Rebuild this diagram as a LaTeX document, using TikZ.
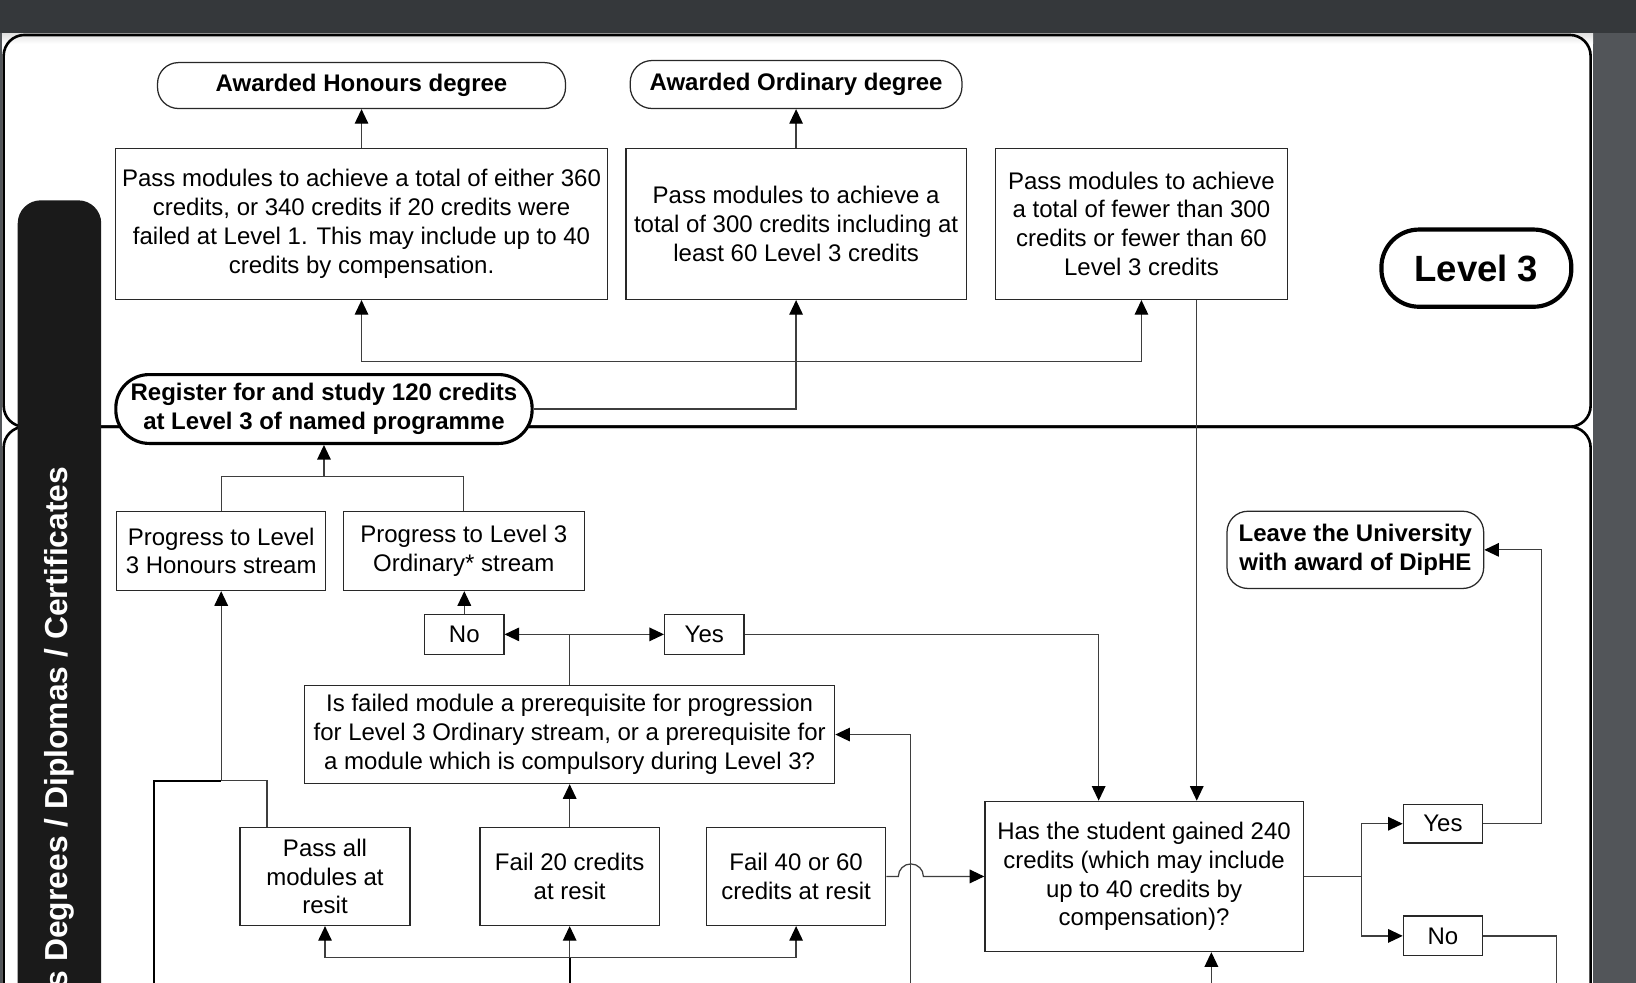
\documentclass[tikz,border=0pt]{standalone}
\usepackage{fontspec}
\setmainfont{Liberation Sans}
\usepackage{tikz}
\usetikzlibrary{arrows.meta, calc}
\definecolor{barColor}{RGB}{53, 56, 59}
\definecolor{sideGray}{RGB}{82, 85, 89}
\definecolor{lineColor}{RGB}{62, 62, 62}
\definecolor{boxLine}{RGB}{40, 40, 40}
\definecolor{sideBar}{RGB}{26, 26, 26}
\tikzset{
    step_box/.style={
        draw=boxLine,
        line width=1.2pt,
        fill=white,
        align=center,
        inner sep=0pt,
        font=\fontsize{23}{27.7}\selectfont
    },
    award_pill/.style={
        step_box,
        rounded corners=20pt,
        font=\fontsize{23}{27.7}\selectfont\bfseries
    },
    level_pill/.style={
        award_pill,
        draw=black,
        line width=3pt,
        rounded corners=32pt
    },
    flow_line/.style={
        line width=1.2pt,
        draw=lineColor
    },
    flow_edge/.style={
        flow_line,
        -{Triangle[length=14pt, width=13pt, color=black]}
    },
    feed_line/.style={
        line width=2pt,
        draw=black
    }
}
\begin{document}
\begin{tikzpicture}[x=1pt, y=-1pt]
    \useasboundingbox (0,0) rectangle (1568,942);
    % page and frames
    \fill[sideGray] (0,0) rectangle (1568,942);
    \fill[barColor] (0,0) rectangle (1568,32);
    \fill[white] (2,32) rectangle (1527,942);
    \shade[top color=black!12, bottom color=white] (2,32) rectangle (1527,42);
    \draw[line width=2.5pt, rounded corners=20pt] (3.5,33.5) rectangle (1524.5,409);
    \draw[line width=2.5pt, rounded corners=20pt] (3.5,409) rectangle (1524.5,990);
    \fill[sideBar, rounded corners=22pt] (17,192) rectangle (97,990);
    \node[rotate=90, anchor=base east, inner sep=0pt, text=white,
        font=\fontsize{30.5}{36}\selectfont\bfseries] (sideTitle) at (65,447)
        {s Degrees / Diplomas / Certificates};

    % Level 3 outcomes
    \node[award_pill, minimum width=391pt, minimum height=44pt] (hons) at (346.5,82)
        {Awarded Honours degree};
    \node[award_pill, minimum width=318pt, minimum height=46pt, rounded corners=21pt] (ord) at (763,81)
        {Awarded Ordinary degree};
    \node[step_box, minimum width=471pt, minimum height=145pt] (passH) at (346.5,214.5)
        {Pass modules to achieve a total of either 360\\credits, or 340 credits if 20 credits were\\failed at Level 1. This may include up to 40\\credits by compensation.};
    \node[step_box, minimum width=326pt, minimum height=145pt] (passO) at (763,214.5)
        {Pass modules to achieve a\\total of 300 credits including at\\least 60 Level 3 credits};
    \node[step_box, minimum width=280pt, minimum height=145pt] (passF) at (1094,214.5)
        {Pass modules to achieve\\a total of fewer than 300\\credits or fewer than 60\\Level 3 credits};
    \node[level_pill, line width=4pt, rounded corners=36pt, minimum width=182pt, minimum height=74pt,
        font=\fontsize{35}{40}\selectfont\bfseries] (level) at (1415,257) {Level 3};
    \node[level_pill, minimum width=399pt, minimum height=66pt] (reg) at (310.5,392)
        {Register for and study 120 credits\\at Level 3 of named programme};

    % Level 2 results
    \node[step_box, minimum width=200pt, minimum height=76pt] (progH) at (212,528)
        {Progress to Level\\3 Honours stream};
    \node[step_box, minimum width=231pt, minimum height=76pt] (progO) at (444.5,528)
        {Progress to Level 3\\Ordinary* stream};
    \node[step_box, minimum width=76pt, minimum height=38pt] (noQ) at (445,608) {No};
    \node[step_box, minimum width=76pt, minimum height=38pt] (yesQ) at (675,608) {Yes};
    \node[step_box, minimum width=508pt, minimum height=94pt] (quest) at (546,704)
        {Is failed module a prerequisite for progression\\for Level 3 Ordinary stream, or a prerequisite for\\a module which is compulsory during Level 3?};
    \node[step_box, minimum width=163pt, minimum height=94pt] (passAll) at (311.5,840)
        {Pass all\\modules at\\resit};
    \node[step_box, minimum width=172pt, minimum height=94pt] (fail20) at (546,840)
        {Fail 20 credits\\at resit};
    \node[step_box, minimum width=172pt, minimum height=94pt] (fail40) at (763,840)
        {Fail 40 or 60\\credits at resit};
    \node[step_box, minimum width=305pt, minimum height=144pt] (has) at (1096.5,840)
        {Has the student gained 240\\credits (which may include\\up to 40 credits by\\compensation)?};
    \node[award_pill, minimum width=246pt, minimum height=74pt] (leave) at (1299,527)
        {Leave the University\\with award of DipHE};
    \node[step_box, minimum width=76pt, minimum height=37pt] (yesH) at (1383,789.5) {Yes};
    \node[step_box, minimum width=76pt, minimum height=38pt] (noH) at (1383,897) {No};

    % connectors, top panel
    \draw[flow_edge] (passH) -- (hons);
    \draw[flow_edge] (passO) -- (ord);
    \draw[flow_edge] (reg.east) -| (passO.south);
    \coordinate (fork3) at ($(passO.south)+(0,59)$);
    \draw[flow_edge] (fork3) -| (passH.south);
    \draw[flow_edge] (fork3) -| (passF.south);
    \coordinate (hasTopR) at ($(has.north)+(50.5,0)$);
    \draw[flow_edge] (passF.south -| hasTopR) -- (hasTopR);

    % connectors, lower panel
    \coordinate (forkP) at ($(reg.south)+(0,30)$);
    \draw[flow_edge] (forkP) -- (reg.south);
    \draw[flow_line] (progH.north) |- (forkP) -| (progO.north);
    \draw[flow_edge] (noQ.north) -- (noQ.north |- progO.south);
    \coordinate (forkQ) at (quest.north |- noQ.east);
    \draw[flow_line] (quest.north) -- (forkQ);
    \draw[flow_edge] (forkQ) -- (noQ.east);
    \draw[flow_edge] (forkQ) -- (yesQ.west);
    \coordinate (hasTopL) at ($(has.north)+(-43.5,0)$);
    \draw[flow_edge] (yesQ.east) -| (hasTopL);
    \draw[flow_edge] (fail20.north) -- (quest.south);

    \coordinate (passTop) at ($(passAll.north)+(-55.5,0)$);
    \coordinate (bendH) at ($(passTop)+(0,-44)$);
    \coordinate (joinH) at (progH.south |- bendH);
    \draw[flow_line] (passTop) -- (bendH) -- (joinH);
    \draw[flow_edge] (joinH) -- (progH.south);
    \coordinate (inLeft) at (148,960);
    \draw[feed_line] (inLeft) |- (joinH);

    \coordinate (inMid) at (546,960);
    \coordinate (forkR) at ($(fail20.south)+(0,30)$);
    \draw[feed_line] (inMid) -- (forkR);
    \draw[flow_edge] (forkR) -| (passAll.south);
    \draw[flow_edge] (forkR) -- (fail20.south);
    \draw[flow_edge] (forkR) -| (fail40.south);

    \coordinate (inRet) at (873,960);
    \draw[flow_edge] (inRet) |- (quest.east);
    % hop over the return line
    \draw[flow_edge] (fail40.east) -- ($(inRet |- fail40.east)+(-12,0)$)
        arc[start angle=180, end angle=0, radius=12pt] -- (has.west);

    \coordinate (forkD) at ($(has.east)+(55,0)$);
    \draw[flow_line] (has.east) -- (forkD);
    \draw[flow_edge] (forkD) |- (yesH.west);
    \draw[flow_edge] (forkD) |- (noH.west);
    \coordinate (backUp) at ($(yesH.east)+(56,0)$);
    \draw[flow_edge] (yesH.east) -- (backUp) |- (leave.east);
    \coordinate (outRight) at (1492,960);
    \draw[flow_line] (noH.east) -| (outRight);
    \coordinate (inHas) at ($(has.south)+(64.5,120)$);
    \draw[flow_edge] (inHas) -- (inHas |- has.south);
\end{tikzpicture}
\end{document}
